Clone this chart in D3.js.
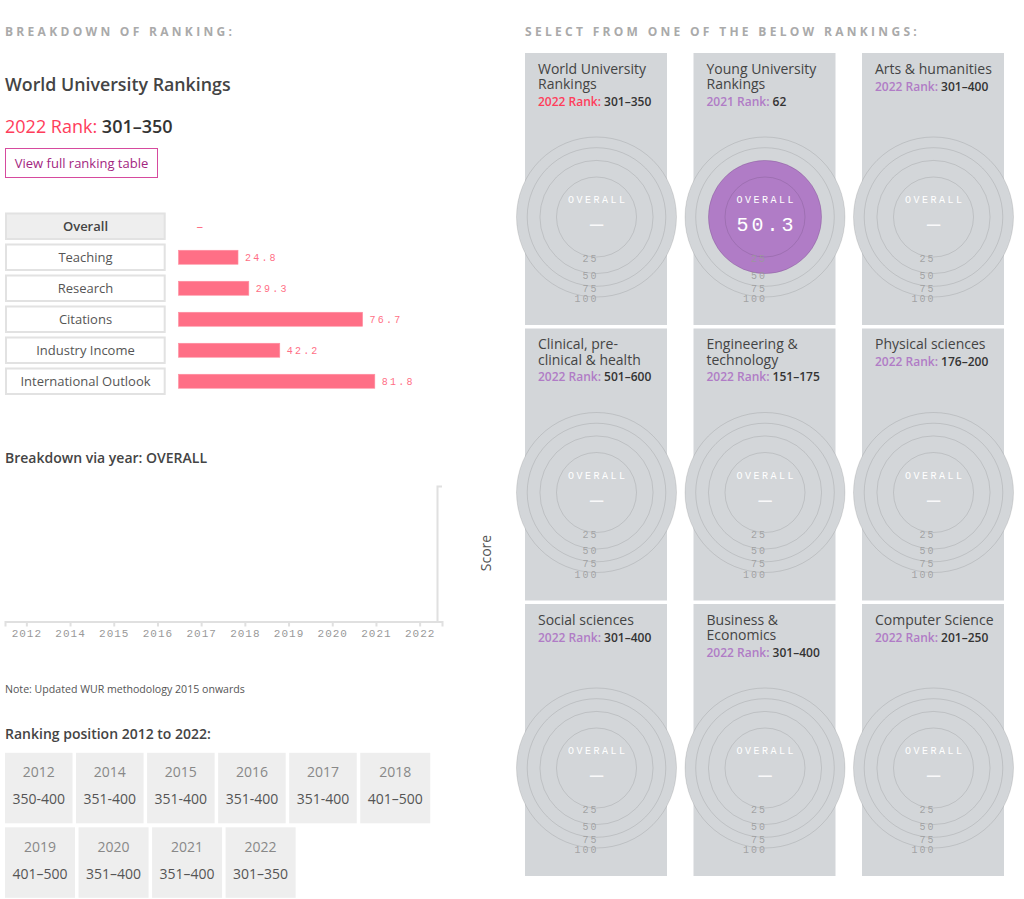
<!DOCTYPE html>
<html><head><meta charset="utf-8">
<script src="https://cdn.jsdelivr.net/npm/d3@7"></script>
<style>
html,body{margin:0;padding:0;background:#fff;}
svg{display:block;font-family:"Open Sans",sans-serif;}
</style></head><body>
<svg id="chart" width="1024" height="899"></svg>
<script>
// ---------- data ----------
const pillars = ["Overall", "Teaching", "Research", "Citations", "Industry Income", "International Outlook"];
const pillarScores = [null, 24.8, 29.3, 76.7, 42.2, 81.8];
const years = ["2012", "2014", "2015", "2016", "2017", "2018", "2019", "2020", "2021", "2022"];
const overallByYear = []; // no overall scores plotted
const positions = ["350-400", "351-400", "351-400", "351-400", "351-400", "401–500", "401–500", "351–400", "351–400", "301–350"];
const rankingNames = ["World University Rankings", "Young University Rankings", "Arts & humanities",
  "Clinical, pre-clinical & health", "Engineering & technology", "Physical sciences",
  "Social sciences", "Business & Economics", "Computer Science"];
const rankingYears = ["2022", "2021", "2022", "2022", "2022", "2022", "2022", "2022", "2022"];
const rankingValues = ["301–350", "62", "301–400", "501–600", "151–175", "176–200", "301–400", "301–400", "201–250"];
const rankingOverall = [null, 50.3, null, null, null, null, null, null, null];
const ringTicks = [25, 50, 75, 100];

// ---------- styles ----------
const RED = "#ff3d5b", PINK = "#ff6f86", PURPLE = "#b07cc6", CARD = "#d3d6d9", DARK = "#444", MONO = "'Courier New','Liberation Mono',monospace";
const svg = d3.select("#chart");

function measure(txt, size, weight) {
  const t = svg.append("text").attr("font-size", size).attr("font-weight", weight || 400).text(txt);
  const w = t.node().getComputedTextLength(); t.remove(); return w;
}

// ---------- left header ----------
svg.append("text").attr("x", 5).attr("y", 35.5).text("BREAKDOWN OF RANKING:")
  .attr("font-size", 12).attr("font-weight", 700).attr("letter-spacing", 3.3).attr("fill", "#aaa");
svg.append("text").attr("x", 5).attr("y", 91).text("World University Rankings")
  .attr("font-size", 17.8).attr("font-weight", 600).attr("fill", DARK);
const rk = svg.append("text").attr("x", 5).attr("y", 133).attr("font-size", 18);
rk.append("tspan").attr("fill", RED).text(rankingYears[0] + " Rank: ");
rk.append("tspan").attr("fill", "#333").attr("font-weight", 600).text(rankingValues[0]);
svg.append("rect").attr("x", 5.5).attr("y", 148.5).attr("width", 152).attr("height", 29)
  .attr("fill", "#fff").attr("stroke", "#d64a9e").attr("stroke-width", 1);
svg.append("text").attr("x", 81.5).attr("y", 167.8).attr("text-anchor", "middle")
  .attr("font-size", 13).attr("fill", "#a3267f").text("View full ranking table");

// ---------- pillar bars ----------
const yB = d3.scaleBand().domain(pillars).range([212.5, 395]).paddingInner(0.113).paddingOuter(0);
const xB = d3.scaleLinear().domain([0, 100]).range([178.5, 418.5]);
const bw = yB.bandwidth();
const rows = svg.append("g").selectAll("g").data(pillars).join("g")
  .attr("transform", d => `translate(0,${yB(d)})`);
rows.append("rect").attr("x", 6).attr("y", 1).attr("width", 158.7).attr("height", bw - 2)
  .attr("fill", (d, i) => i === 0 ? "#eee" : "#fff").attr("stroke", "#e2e2e2").attr("stroke-width", 2);
rows.append("text").attr("x", 85.5).attr("y", bw / 2 + 4.6).attr("text-anchor", "middle")
  .attr("font-size", 13).attr("font-weight", (d, i) => i === 0 ? 600 : 400)
  .attr("fill", (d, i) => i === 0 ? "#444" : "#555").text(d => d);
rows.each(function (d, i) {
  const v = pillarScores[i], g = d3.select(this);
  if (v == null) {
    g.append("text").attr("x", 196.5).attr("y", bw / 2 + 4.5).attr("font-size", 13)
      .attr("fill", PINK).text("–");
  } else {
    g.append("rect").attr("x", xB(0)).attr("y", bw / 2 - 7).attr("width", xB(v) - xB(0)).attr("height", 14)
      .attr("fill", PINK).attr("stroke", "#ff8fa1").attr("stroke-width", 0.6);
    g.append("text").attr("x", xB(v) + 7).attr("y", bw / 2 + 3.5).attr("font-size", 10).attr("font-family", MONO)
      .attr("letter-spacing", 2.2).attr("fill", PINK).text(v.toFixed(1));
  }
});

// ---------- breakdown via year ----------
svg.append("text").attr("x", 5).attr("y", 463).text("Breakdown via year: OVERALL")
  .attr("font-size", 14).attr("font-weight", 600).attr("fill", DARK);
const xY = d3.scaleBand().domain(years).range([5, 442]);
const yY = d3.scaleLinear().domain([0, 100]).range([621.5, 486]);
const gx = svg.append("g").attr("transform", "translate(0,621.5)")
  .call(d3.axisBottom(xY).tickSizeInner(5).tickSizeOuter(5));
gx.selectAll("path,line").attr("stroke", "#e0e0e0").attr("stroke-width", 2);
gx.selectAll("text").attr("font-family", MONO).attr("font-size", 11).attr("letter-spacing", 1).attr("fill", "#999");
const gy = svg.append("g").attr("transform", "translate(437,0)")
  .call(d3.axisRight(yY).ticks(0).tickSizeOuter(5));
gy.selectAll("path,line").attr("stroke", "#e0e0e0").attr("stroke-width", 2);
gy.selectAll(".tick").remove();
svg.append("g").selectAll("circle").data(overallByYear).join("circle")
  .attr("cx", (d, i) => xY(years[i]) + xY.bandwidth() / 2).attr("cy", d => yY(d)).attr("r", 3).attr("fill", RED);
svg.append("text").attr("transform", "translate(491,553) rotate(-90)").attr("text-anchor", "middle")
  .attr("font-size", 14).attr("fill", "#555").text("Score");

svg.append("text").attr("x", 5).attr("y", 693).text("Note: Updated WUR methodology 2015 onwards")
  .attr("font-size", 10.6).attr("fill", "#555");

// ---------- ranking position table ----------
svg.append("text").attr("x", 5).attr("y", 739).text("Ranking position 2012 to 2022:")
  .attr("font-size", 14).attr("font-weight", 600).attr("fill", DARK);
let cx0 = 5, cy0 = 752.8;
const maxRight = 455, cellH = 70.5, gap = 3.5;
years.forEach((yr, i) => {
  const w = Math.max(measure(positions[i], 14), measure(yr, 14)) + 15;
  if (cx0 + w > maxRight) { cx0 = 5; cy0 += cellH + gap + 0.5; }
  const g = svg.append("g").attr("transform", `translate(${cx0},${cy0})`);
  g.append("rect").attr("width", w).attr("height", cellH).attr("fill", "#eee");
  g.append("text").attr("x", w / 2).attr("y", 24.5).attr("text-anchor", "middle").attr("font-size", 14)
    .attr("fill", "#888").text(yr);
  g.append("text").attr("x", w / 2).attr("y", 51.5).attr("text-anchor", "middle").attr("font-size", 14)
    .attr("fill", "#555").text(positions[i]);
  cx0 += w + gap;
});

// ---------- right: rankings ----------
svg.append("text").attr("x", 525).attr("y", 35.5).text("SELECT FROM ONE OF THE BELOW RANKINGS:")
  .attr("font-size", 12).attr("font-weight", 700).attr("letter-spacing", 3.3).attr("fill", "#aaa");

const rScale = d3.scaleSqrt().domain([0, 100]).range([0, 80]);
const cardW = 142, cardH = 272;
function wrap(name, maxW) {
  const toks = [];
  name.split(" ").forEach(w => {
    const parts = w.split(/(?<=-)/);
    parts.forEach((p, k) => toks.push({ t: p, sp: k === 0 && toks.length > 0 }));
  });
  const lines = []; let line = "";
  toks.forEach(tk => {
    const cand = line + (line && tk.sp ? " " : "") + tk.t;
    if (line && measure(cand, 14) > maxW) { lines.push(line); line = tk.t; } else line = cand;
  });
  lines.push(line); return lines;
}
rankingNames.forEach((name, i) => {
  const col = i % 3, row = Math.floor(i / 3);
  const x = 525 + col * 168.5, y = 53 + row * 275.5;
  const g = svg.append("g").attr("transform", `translate(${x},${y})`);
  g.append("rect").attr("width", cardW).attr("height", cardH).attr("fill", CARD);
  const lines = wrap(name, 121);
  lines.forEach((ln, k) => g.append("text").attr("x", 13).attr("y", 20.8 + k * 15.2).attr("font-size", 14)
    .attr("fill", "#444").text(ln));
  const rt = g.append("text").attr("x", 13).attr("y", 37.6 + (lines.length - 1) * 15.3).attr("font-size", 12).attr("font-weight", 600);
  rt.append("tspan").attr("fill", i === 0 ? RED : PURPLE).text(rankingYears[i] + " Rank: ");
  rt.append("tspan").attr("fill", "#333").text(rankingValues[i]);
  // rings
  const c = g.append("g").attr("transform", `translate(${cardW / 2 + 0.5},164)`);
  c.append("circle").attr("r", rScale(100)).attr("fill", CARD);
  const v = rankingOverall[i];
  if (v != null) c.append("circle").attr("r", rScale(v)).attr("fill", PURPLE);
  c.selectAll("circle.ring").data(ringTicks).join("circle").attr("class", "ring")
    .attr("r", d => rScale(d)).attr("fill", "none").attr("stroke", "rgba(0,0,0,0.1)").attr("stroke-width", 1);
  c.selectAll("text.tk").data(ringTicks).join("text").attr("class", "tk")
    .attr("x", 2).attr("y", d => rScale(d) + 2.6).attr("dominant-baseline", "middle").attr("text-anchor", "end")
    .attr("font-family", MONO).attr("font-size", 10).attr("letter-spacing", 2)
    .attr("fill", "#999").attr("fill-opacity", 0.85).text(d => d);
  c.append("text").attr("x", 1.2).attr("y", -16.5).attr("dominant-baseline", "middle").attr("text-anchor", "middle")
    .attr("font-family", MONO).attr("font-size", 10).attr("letter-spacing", 2.5).attr("fill", "#fff").text("OVERALL");
  if (v != null) {
    c.append("text").attr("x", 1.5).attr("y", 8.5).attr("dominant-baseline", "middle").attr("text-anchor", "middle")
      .attr("font-family", MONO).attr("font-size", 20).attr("letter-spacing", 3).attr("fill", "#fff").text(v.toFixed(1));
  } else {
    c.append("text").attr("x", 0).attr("y", 8.5).attr("dominant-baseline", "middle").attr("text-anchor", "middle")
      .attr("font-family", MONO).attr("font-size", 22).attr("fill", "#fff").attr("fill-opacity", 0.9).text("—");
  }
});
</script>
</body></html>
